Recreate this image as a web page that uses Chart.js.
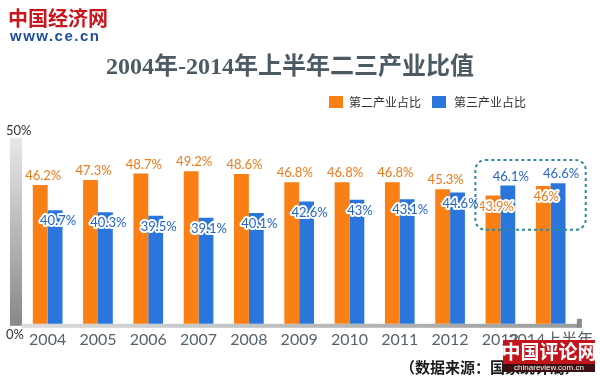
<!DOCTYPE html>
<html>
<head>
<meta charset="utf-8">
<script src="https://cdn.jsdelivr.net/npm/chart.js@4/dist/chart.umd.min.js"></script>
<style>
html,body{margin:0;padding:0;background:#fff;}
#c{display:block;}
</style>
</head>
<body>
<canvas id="c" width="600" height="380"></canvas>
<script>
// ---- data ----
const categories = ['2004','2005','2006','2007','2008','2009','2010','2011','2012','2013','2014上半年'];
const secondIndustry = [46.2, 47.3, 48.7, 49.2, 48.6, 46.8, 46.8, 46.8, 45.3, 43.9, 46];
const thirdIndustry  = [40.7, 40.3, 39.5, 39.1, 40.1, 42.6, 43, 43.1, 44.6, 46.1, 46.6];
const seriesNames = ['第二产业占比', '第三产业占比'];
const yAxisLabels = ['0%', '50%'];
const titleText = '2004年-2014年上半年二三产业比值';
const sourceText = '（数据来源：国家统计局）';
const highlightCategories = ['2013', '2014上半年'];

const ORANGE = '#fa7f15';
const BLUE = '#2a76dc';
const CJK = "'Noto Sans CJK SC'";

// label placement: 'above' or 'inside' the bar top
const orangePlacement = categories.map(c => highlightCategories.includes(c) ? 'inside' : 'above');
const bluePlacement = categories.map(c => highlightCategories.includes(c) ? 'above' : 'inside');

function roundRect(ctx, x, y, w, h, r) {
  ctx.beginPath();
  ctx.moveTo(x + r, y);
  ctx.lineTo(x + w - r, y);
  ctx.arcTo(x + w, y, x + w, y + r, r);
  ctx.lineTo(x + w, y + h - r);
  ctx.arcTo(x + w, y + h, x + w - r, y + h, r);
  ctx.lineTo(x + r, y + h);
  ctx.arcTo(x, y + h, x, y + h - r, r);
  ctx.lineTo(x, y + r);
  ctx.arcTo(x, y, x + r, y, r);
  ctx.closePath();
}

const decor = {
  id: 'decor',
  beforeDraw(chart) {
    const ctx = chart.ctx;
    const a = chart.chartArea;
    ctx.save();
    ctx.fillStyle = '#fff';
    ctx.fillRect(0, 0, chart.width, chart.height);

    // logo
    ctx.textBaseline = 'middle';
    ctx.textAlign = 'left';
    ctx.fillStyle = '#c9161d';
    ctx.font = "bold 20px " + CJK;
    ctx.fillText('中国经济网', 8, 18);
    ctx.fillStyle = '#1f4f9c';
    ctx.font = "bold 15px 'Liberation Sans'";
    if ('letterSpacing' in ctx) ctx.letterSpacing = '1.5px';
    ctx.fillText('www.ce.cn', 10, 37);
    if ('letterSpacing' in ctx) ctx.letterSpacing = '0px';

    // title
    ctx.textAlign = 'center';
    ctx.fillStyle = '#4b5a63';
    ctx.font = "bold 24px 'Liberation Serif', " + CJK;
    ctx.fillText(titleText, 290, 68);

    // legend
    ctx.textAlign = 'left';
    ctx.font = "12px " + CJK;
    ctx.fillStyle = ORANGE;
    ctx.fillRect(329, 96, 14, 12);
    ctx.fillStyle = '#333';
    ctx.fillText(seriesNames[0], 349, 102);
    ctx.fillStyle = BLUE;
    ctx.fillRect(432, 96, 14, 12);
    ctx.fillStyle = '#333';
    ctx.fillText(seriesNames[1], 454, 102);

    // left decorative gradient axis
    const g = ctx.createLinearGradient(0, a.top - 2, 0, a.bottom + 2);
    g.addColorStop(0, '#e8e8e8');
    g.addColorStop(1, '#888');
    ctx.fillStyle = g;
    ctx.fillRect(10, a.top - 2, 12, a.bottom - a.top + 4);
    ctx.fillStyle = '#333';
    ctx.font = "13px Lato";
    ctx.fillText(yAxisLabels[1], 6, a.top - 9);
    ctx.fillText(yAxisLabels[0], 6, a.bottom + 11);

    // bottom axis line
    const g2 = ctx.createLinearGradient(a.left, 0, a.right, 0);
    g2.addColorStop(0, '#dcdcdc');
    g2.addColorStop(1, '#9c9c9c');
    ctx.fillStyle = g2;
    ctx.fillRect(a.left - 1, a.bottom, a.right - a.left + 4, 4);
    ctx.fillStyle = '#8a8a8a';
    ctx.fillRect(a.right + 1, a.bottom - 5, 5, 9);
    ctx.restore();
  },
  afterDatasetsDraw(chart) {
    const ctx = chart.ctx;
    const a = chart.chartArea;
    ctx.save();
    ctx.font = "13px Lato";
    ctx.textAlign = 'center';
    ctx.textBaseline = 'middle';
    ctx.lineJoin = 'round';
    const specs = [
      { place: orangePlacement, color: '#f07a1a' },
      { place: bluePlacement, color: '#2464d2' }
    ];
    chart.data.datasets.forEach((ds, di) => {
      const meta = chart.getDatasetMeta(di);
      meta.data.forEach((bar, i) => {
        const txt = ds.data[i] + '%';
        const x = bar.x + 3;
        const y = specs[di].place[i] === 'above' ? bar.y - 9 : bar.y + 11;
        ctx.strokeStyle = '#fff';
        ctx.lineWidth = 4;
        ctx.strokeText(txt, x, y);
        ctx.fillStyle = specs[di].color;
        ctx.fillText(txt, x, y);
      });
    });

    // highlight dashed box
    const xs = chart.scales.x;
    const i0 = categories.indexOf(highlightCategories[0]);
    const i1 = categories.indexOf(highlightCategories[1]);
    const left = xs.getPixelForValue(i0) - 25;
    const right = xs.getPixelForValue(i1) + 35;
    const top = a.top + 20;
    const bottom = a.bottom - 94;
    ctx.setLineDash([3, 3]);
    ctx.strokeStyle = '#2b8c9c';
    ctx.lineWidth = 2;
    roundRect(ctx, left, top, right - left, bottom - top, 10);
    ctx.stroke();
    ctx.restore();
  },
  afterDraw(chart) {
    const ctx = chart.ctx;
    ctx.save();
    ctx.textBaseline = 'middle';
    ctx.textAlign = 'left';
    ctx.fillStyle = '#1a1a1a';
    ctx.font = "bold 15px " + CJK;
    ctx.fillText(sourceText, 400, 367);
    // watermark
    ctx.fillStyle = '#c3141b';
    ctx.fillRect(503, 340, 92, 24);
    ctx.fillStyle = '#3a1012';
    ctx.fillRect(503, 364, 92, 8);
    ctx.fillStyle = '#fff';
    ctx.textAlign = 'center';
    ctx.font = "bold 19px " + CJK;
    ctx.fillText('中国评论网', 549, 352);
    ctx.font = "8px 'Liberation Sans'";
    ctx.fillText('chinareview.com.cn', 549, 368);
    ctx.restore();
  }
};

new Chart(document.getElementById('c'), {
  type: 'bar',
  data: {
    labels: categories,
    datasets: [
      { label: seriesNames[0], data: secondIndustry, backgroundColor: ORANGE, barPercentage: 1, categoryPercentage: 0.59 },
      { label: seriesNames[1], data: thirdIndustry, backgroundColor: BLUE, barPercentage: 1, categoryPercentage: 0.59 }
    ]
  },
  options: {
    responsive: false,
    devicePixelRatio: 1,
    animation: false,
    layout: { padding: { left: 22.5, right: 16.5, top: 140, bottom: 25 } },
    plugins: { legend: { display: false }, title: { display: false }, tooltip: { enabled: false } },
    scales: {
      x: {
        grid: { display: false, drawTicks: false },
        border: { display: false },
        ticks: {
          autoSkip: false, maxRotation: 0, minRotation: 0, padding: 6,
          color: '#56636b',
          font: { family: "Lato, 'Noto Sans CJK SC'", size: 16 }
        }
      },
      y: { display: false, min: 16, max: 56 }
    }
  },
  plugins: [decor]
});
</script>
</body>
</html>
